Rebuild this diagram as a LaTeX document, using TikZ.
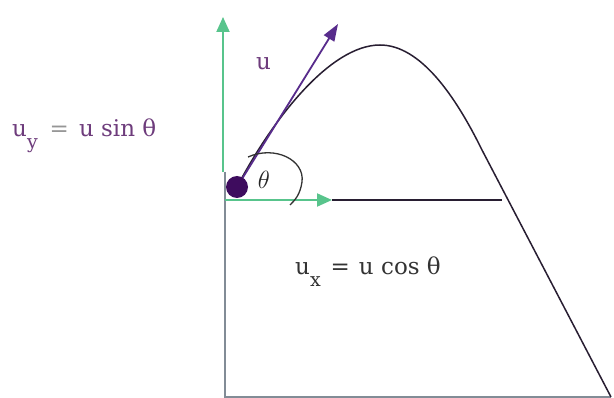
\documentclass[tikz,border=0pt]{standalone}
\usepackage{fontspec}
\setmainfont{DejaVu Serif}
\usepackage{xcolor}
\usepackage{tikz}
\usetikzlibrary{arrows.meta}
\definecolor{axgreen}{RGB}{88,196,140}
\definecolor{ballpurple}{RGB}{62,12,94}
\definecolor{velpurple}{RGB}{88,44,140}
\definecolor{txtpurple}{RGB}{110,60,124}
\definecolor{eqgray}{RGB}{150,150,150}
\definecolor{basegray}{RGB}{130,140,150}
\definecolor{trajdark}{RGB}{40,30,50}
\newcommand{\sbs}[1]{\raisebox{-12pt}{\fontsize{19}{19}\selectfont #1}}

\begin{document}
\begin{tikzpicture}[
  x=1pt, y=-1pt,
  ax/.style={draw=axgreen, line width=2pt, -{Triangle[length=15pt, width=13pt]}},
  vel/.style={draw=velpurple, line width=1.8pt, -{Triangle[length=17pt, width=12pt]}},
  ball/.style={circle, fill=ballpurple, minimum size=22pt, inner sep=0pt},
  eq/.style={anchor=base west, font=\fontsize{23}{26}\selectfont, inner sep=0pt},
  traj/.style={draw=trajdark, line width=1.5pt},
  base/.style={draw=basegray, line width=1.5pt}
]
\useasboundingbox[fill=white] (0,0) rectangle (614,398);

\coordinate (launch) at (237,187);
\coordinate (origin) at (225,200);
\coordinate (ystart) at (223,172);
\coordinate (ytip)   at (223,17);
\coordinate (xtip)   at (332,200);
\coordinate (xend)   at (502,200);
\coordinate (utip)   at (338,24);
\coordinate (peak)   at (380,45);
\coordinate (fall)   at (482,150);
\coordinate (land)   at (611,397);
\coordinate (vtop)   at (225,172);
\coordinate (foot)   at (225,397);

% frame
\draw[base] (vtop) -- (foot) -- (land);

% components
\draw[ax] (ystart) -- (ytip);
\draw[ax] (origin) -- (xtip);
\draw[draw=trajdark, line width=2pt] (xtip) -- (xend);

% flight path
\draw[traj] (launch) .. controls (272,120) and (330,45) .. (peak)
  .. controls (420,45) and (455,95) .. (fall) -- (land);
\draw[vel] (launch) -- (utip);

% angle
\draw[draw=black!80, line width=1.3pt] (248,157) .. controls (275,145) and (305,160) .. (302,182)
  .. controls (300,195) and (295,200) .. (290,205);

\node[ball] (ball) at (launch) {};

\node[eq, text=txtpurple] (uylbl) at (12,137) {u\sbs{y}\hspace{12pt}{\color{eqgray}=}\hspace{10pt}u sin θ};
\node[eq, text=black!80]  (uxlbl) at (295,275) {u\sbs{x}\hspace{10pt}=\hspace{9pt}u cos θ};
\node[eq, text=txtpurple] (ulbl)  at (256,70) {u};
\node[font=\fontsize{24}{24}\selectfont, text=black!85] (theta) at (264,180) {$\theta$};
\end{tikzpicture}
\end{document}
